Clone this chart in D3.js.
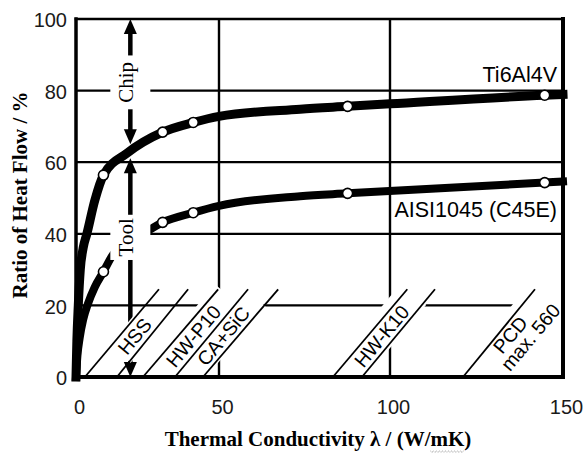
<!DOCTYPE html>
<html>
<head>
<meta charset="utf-8">
<script src="https://cdn.jsdelivr.net/npm/d3@7"></script>
<style>
  html, body { margin: 0; padding: 0; background: #fff; }
  svg { display: block; }
</style>
</head>
<body>
<svg id="chart" width="584" height="454"></svg>
<script>
// Share of heat flowing into chip and tool versus tool thermal conductivity
const xTicks = [0, 50, 100, 150];
const yTicks = [0, 20, 40, 60, 80, 100];

// Ti6Al4V curve: thermal conductivity λ (W/mK) and heat-flow ratio (%)
const tiLambda = [0, 0.3, 0.8, 1.5, 2.5, 3.8, 6.6, 9.6, 17.8, 30.3, 41, 50, 73.7, 87.6, 100, 144.7, 150];
const tiRatio  = [0, 10, 20, 30, 36, 40, 49.4, 56.4, 62.5, 68.4, 71.1, 72.8, 74.8, 75.6, 76.3, 78.7, 78.9];

// AISI1045 (C45E) curve
const aisiLambda = [0, 0.5, 1.3, 2.5, 4.2, 6.5, 9.6, 13, 18, 23.4, 30.3, 41, 50, 73.7, 87.6, 144.7, 150];
const aisiRatio  = [0, 6, 11, 16, 20.5, 25, 29.4, 34.3, 37.5, 40, 43.2, 45.9, 47.8, 50.5, 51.3, 54.3, 54.6];

// Measured points (open circles)
const markLambda = [9.6, 30.3, 41, 87.6, 144.7];
const tiMarks    = [56.4, 68.4, 71.1, 75.6, 78.7];
const aisiMarks  = [29.4, 43.2, 45.9, 51.3, 54.3];

// Tool material strips: hatch lines run from λ at 0 % to λ at the strip top
const hatchBottom = [3.1, 14.3, 23.4, 34.6, 44.4, 83.3, 91.8, 121.1];
const hatchTop    = [29.0, 39.2, 49.7, 58.5, 67.3, 105.0, 113.0, 141.9];
const hatchTopRatio = 24.5;
const materials = ["HSS", "HW-P10", "CA+SiC", "HW-K10"];
const materialLines = [[0, 1], [2, 3], [3, 4], [5, 6]];
const pcdLabel = ["PCD", "max. 560"];

const seriesNames = ["Ti6Al4V", "AISI1045 (C45E)"];
const arrowLambda = 19;

const svg = d3.select("#chart");
const sans = "'Liberation Sans', Arial, Helvetica, sans-serif";
const serif = "'Liberation Serif', 'Times New Roman', Times, serif";

const x = d3.scaleLinear().domain([0, 50, 100, 150]).range([76, 219, 390, 563]);
const y = d3.scaleLinear().domain([0, 100]).range([377, 19]);

// ---- grid ----
const grid = svg.append("g");
grid.selectAll("line.h").data(yTicks.filter(v => v > 0 && v < 100)).join("line")
  .attr("class", "h")
  .attr("x1", x(0)).attr("x2", x(150))
  .attr("y1", d => y(d)).attr("y2", d => y(d))
  .attr("stroke", "#000").attr("stroke-width", 2.2);
grid.selectAll("line.v").data(xTicks.filter(v => v > 0 && v < 150)).join("line")
  .attr("class", "v")
  .attr("x1", d => x(d)).attr("x2", d => x(d))
  .attr("y1", y(0)).attr("y2", y(100))
  .attr("stroke", "#000").attr("stroke-width", 2.4);

// ---- curves ----
const line = d3.line().x(d => x(d[0])).y(d => y(d[1])).curve(d3.curveMonotoneX);
svg.append("path").datum(d3.zip(aisiLambda, aisiRatio))
  .attr("d", line).attr("fill", "none").attr("stroke", "#000")
  .attr("stroke-width", 8).attr("stroke-linejoin", "round").attr("stroke-linecap", "square");
svg.append("path").datum(d3.zip(tiLambda, tiRatio))
  .attr("d", line).attr("fill", "none").attr("stroke", "#000")
  .attr("stroke-width", 9).attr("stroke-linejoin", "round").attr("stroke-linecap", "square");

// ---- chip / tool arrows (drawn below label boxes so the boxes break them) ----
const split = d3.scaleLinear().domain(tiLambda).range(tiRatio)(arrowLambda);
const ax = x(arrowLambda), ys = y(split);
const arrows = svg.append("g");
const head = (tipY, dir) => {
  // dir = -1 points up, +1 points down
  const by = tipY - dir * 15;
  return `M${ax},${tipY}L${ax - 6.5},${by}L${ax + 6.5},${by}Z`;
};
const chipTip = ys - 7, toolTip = ys + 7;
arrows.append("line").attr("x1", ax).attr("x2", ax)
  .attr("y1", y(100) + 12).attr("y2", chipTip - 12)
  .attr("stroke", "#000").attr("stroke-width", 4.5);
arrows.append("line").attr("x1", ax).attr("x2", ax)
  .attr("y1", toolTip + 12).attr("y2", y(0) - 12)
  .attr("stroke", "#000").attr("stroke-width", 4.5);
arrows.append("path").attr("d", head(y(100), -1));
arrows.append("path").attr("d", head(chipTip, 1));
arrows.append("path").attr("d", head(toolTip, -1));
arrows.append("path").attr("d", head(y(0), 1));

// ---- material strips ----
const hx = (i, r) => {
  const xb = x(hatchBottom[i]), xt = x(hatchTop[i]);
  const t = (y(0) - y(r)) / (y(0) - y(hatchTopRatio));
  return xb + t * (xt - xb);
};
const angle = d3.mean(hatchBottom, (b, i) =>
  -Math.atan2(y(0) - y(hatchTopRatio), x(hatchTop[i]) - x(b)) * 180 / Math.PI);

const labelRatio = 11.4;
const boxPad = [[3, -14, 14], [17, -17, 13], [15, -13, 13], [16, -19, 14]];
const boxLayer = svg.append("g");
const hatchLayer = svg.append("g");
const matText = svg.append("g");

materials.forEach((name, k) => {
  const [a, b] = materialLines[k];
  const cx = (hx(a, labelRatio) + hx(b, labelRatio)) / 2;
  const cy = y(labelRatio);
  const g = matText.append("g").attr("transform", `translate(${cx},${cy}) rotate(${angle})`);
  const t = g.append("text").text(name)
    .attr("text-anchor", "middle").attr("dy", "0.35em")
    .attr("font-family", sans).attr("font-size", 19.5).attr("fill", "#000");
  const len = t.node().getComputedTextLength();
  const [pl, top, bot] = boxPad[k];
  boxLayer.append("rect")
    .attr("transform", `translate(${cx},${cy}) rotate(${angle})`)
    .attr("x", -len / 2 - pl).attr("width", len + 2 * pl)
    .attr("y", top).attr("height", bot - top)
    .attr("fill", "#fff");
});

// PCD strip label (two lines to the right of the last hatch line)
{
  const px = hx(7, labelRatio), py = y(labelRatio);
  const g = matText.append("g").attr("transform", `translate(${px},${py}) rotate(${angle})`);
  g.append("text").text(pcdLabel[0]).attr("x", 10).attr("y", 16.5)
    .attr("text-anchor", "middle").attr("font-family", sans).attr("font-size", 19.5);
  g.append("text").text(pcdLabel[1]).attr("x", 21).attr("y", 33.5)
    .attr("text-anchor", "middle").attr("font-family", sans).attr("font-size", 19.5);
  boxLayer.append("rect")
    .attr("transform", `translate(${px},${py}) rotate(${angle})`)
    .attr("x", -30).attr("width", 100).attr("y", -8).attr("height", 46)
    .attr("fill", "#fff");
}

hatchLayer.selectAll("line").data(hatchBottom).join("line")
  .attr("x1", d => x(d)).attr("y1", y(0))
  .attr("x2", (d, i) => x(hatchTop[i])).attr("y2", y(hatchTopRatio))
  .attr("stroke", "#000").attr("stroke-width", 1.8);
matText.raise();

// chip / tool labels on white boxes that break shafts, grid and curve
const sideLabels = [["Chip", 82.3, 6.5], ["Tool", 39.0, 3.5]];
sideLabels.forEach(([txt, r, pad]) => {
  const cy = y(r);
  const box = svg.append("rect").attr("fill", "#fff");
  const t = svg.append("text").text(txt)
    .attr("transform", `translate(${ax + 3},${cy}) rotate(-90)`)
    .attr("text-anchor", "middle")
    .attr("font-family", serif).attr("font-size", 21).attr("fill", "#000");
  const len = t.node().getComputedTextLength();
  box.attr("x", ax - 20).attr("width", 40)
    .attr("y", cy - len / 2 - pad).attr("height", len + 2 * pad);
});

// ---- measured points ----
const marks = svg.append("g");
[tiMarks, aisiMarks].forEach(vals => {
  marks.selectAll(null).data(d3.zip(markLambda, vals)).join("circle")
    .attr("cx", d => x(d[0])).attr("cy", d => y(d[1])).attr("r", 5)
    .attr("fill", "#fff").attr("stroke", "#000").attr("stroke-width", 1.6);
});

// ---- series labels ----
svg.append("text").text(seriesNames[0])
  .attr("x", 557).attr("y", 82).attr("text-anchor", "end")
  .attr("font-family", sans).attr("font-size", 21.5);
const aisiBox = svg.append("rect").attr("fill", "#fff");
const aisiLab = svg.append("text").text(seriesNames[1])
  .attr("x", 557).attr("y", 217).attr("text-anchor", "end")
  .attr("font-family", sans).attr("font-size", 21.5);
{
  const bb = aisiLab.node().getBBox();
  aisiBox.attr("x", bb.x - 2).attr("y", bb.y + 1).attr("width", bb.width + 4).attr("height", bb.height);
}

// ---- axes ----
const yAxis = svg.append("g").attr("transform", `translate(${x(0)},0)`)
  .call(d3.axisLeft(y).tickValues(yTicks).tickSize(0).tickPadding(9));
yAxis.select(".domain").remove();
yAxis.attr("font-family", sans).attr("font-size", 20);
yAxis.selectAll("text").attr("dy", "0.38em").attr("fill", "#1a1a1a");

const xAxis = svg.append("g").attr("transform", `translate(0,${y(0)})`)
  .call(d3.axisBottom(x).tickValues(xTicks).tickSize(0).tickPadding(23));
xAxis.select(".domain").remove();
xAxis.attr("font-family", sans).attr("font-size", 20);
xAxis.selectAll("text").attr("dx", 3).attr("fill", "#1a1a1a");

// ---- frame ----
const frame = svg.append("g").attr("stroke", "#000").attr("stroke-linecap", "square");
frame.append("line").attr("x1", x(0)).attr("x2", x(150)).attr("y1", y(100)).attr("y2", y(100)).attr("stroke-width", 2.6);
frame.append("line").attr("x1", x(150)).attr("x2", x(150)).attr("y1", y(100)).attr("y2", y(0)).attr("stroke-width", 4);
frame.append("line").attr("x1", x(0)).attr("x2", x(150)).attr("y1", y(0)).attr("y2", y(0)).attr("stroke-width", 4);
frame.append("line").attr("x1", x(0)).attr("x2", x(0)).attr("y1", y(100)).attr("y2", y(0)).attr("stroke-width", 3.5);

// ---- axis titles ----
svg.append("text").text("Ratio of Heat Flow / %")
  .attr("transform", "translate(27,195) rotate(-90)")
  .attr("text-anchor", "middle").attr("font-family", serif)
  .attr("font-weight", "bold").attr("font-size", 21);

const xTitleStr = "Thermal Conductivity λ / (W/mK)";
const xTitle = svg.append("text").text(xTitleStr)
  .attr("x", 318).attr("y", 446).attr("text-anchor", "middle")
  .attr("font-family", serif).attr("font-weight", "bold").attr("font-size", 21);
{
  // dotted squiggle under "mK"
  const i0 = xTitleStr.indexOf("mK");
  const n = xTitle.node();
  const xs = n.getStartPositionOfChar(i0).x;
  const xe = n.getEndPositionOfChar(i0 + 1).x;
  const by = 451;
  let d = `M${xs},${by}`;
  for (let xx = xs + 1.5, k = 0; xx <= xe; xx += 1.5, k++) d += `L${xx},${by + (k % 2 ? 0 : 1.4)}`;
  svg.append("path").attr("d", d).attr("fill", "none")
    .attr("stroke", "#8a8a8a").attr("stroke-width", 0.9).attr("stroke-dasharray", "1.2,0.8");
}
</script>
</body>
</html>
